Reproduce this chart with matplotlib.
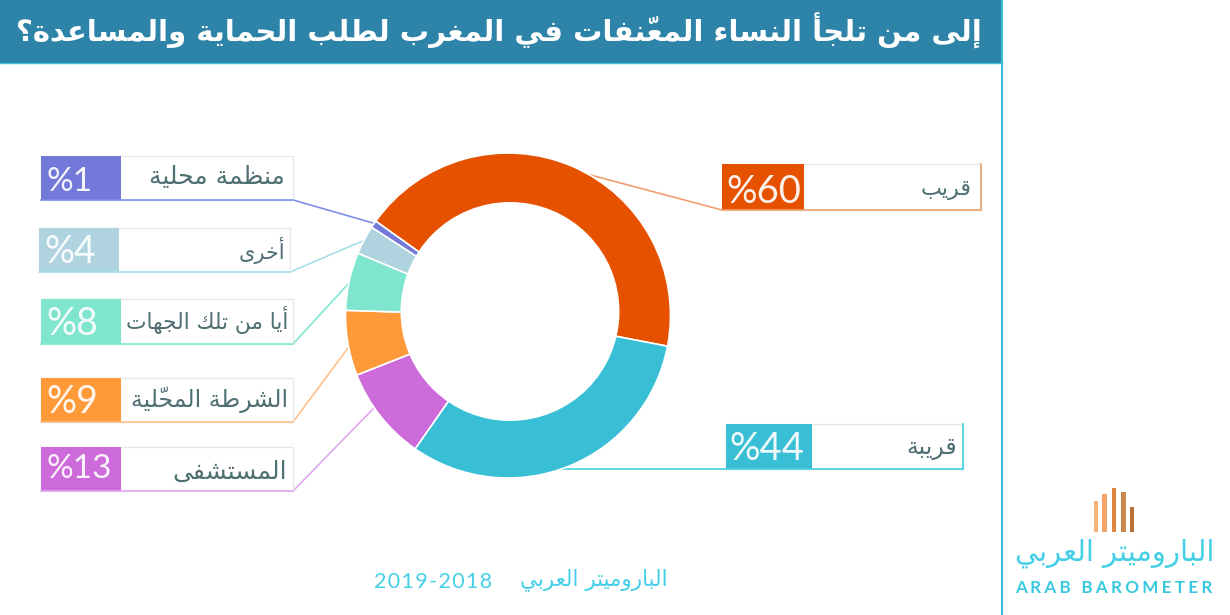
import matplotlib
matplotlib.use("Agg")
import matplotlib.pyplot as plt
from matplotlib.patches import Circle, Rectangle

# data
title = "إلى من تلجأ النساء المعنّفات في المغرب لطلب الحماية والمساعدة؟"
labels = ["قريب", "قريبة", "المستشفى", "الشرطة المحلّية", "أيا من تلك الجهات", "أخرى", "منظمة محلية"]
values = [60, 44, 13, 9, 8, 4, 1]
source = "الباروميتر العربي"
years = "2019-2018"
brand_ar = "الباروميتر العربي"
brand_en = "ARAB BAROMETER"
logo_heights = [31, 38, 44, 40, 25]

# colours
colors = ["#E65100", "#38BFD6", "#CC6BD9", "#FF9A3A", "#7FE5CF", "#AFD3DF", "#7379D8"]
line_colors = ["#F0A070", "#45CFE0", "#E0A8EE", "#FFC08A", "#7FE8D4", "#A8E0EA", "#7C90E8"]
logo_colors = ["#F5B27A", "#F4A468", "#DE8640", "#C98A50", "#B87035"]
band = "#2E84A8"
edge = "#3DBDD9"
text_col = "#4F6F73"

# layout in image pixels: left, right, top, bottom, end of colour block, label right edge, percent left edge
boxes = [
    (722, 981, 164, 210, 804, 972, 726),
    (726, 963, 424, 469, 812, 957, 729),
    (41, 293, 447, 491, 121, 287, 46),
    (41, 293, 378, 422, 121, 288, 46),
    (41, 293, 299, 344, 121, 288, 46),
    (39, 290, 228, 272, 119, 285, 44),
    (41, 293, 156, 200, 121, 285, 46),
]
# leader: from the box corner to the ring
leaders = [
    ((722, 210), (583, 173)),
    ((963, 469), (563, 469)),
    ((293, 491), (373, 409)),
    ((293, 422), (348, 348)),
    ((293, 344), (350, 282)),
    ((290, 272), (365, 240)),
    ((293, 200), (373, 223)),
]
label_sizes = [16, 17, 18, 17, 15.7, 15, 18]
label_y = [190, 448, 472, 400, 320, 250, 177]
pct_sizes = [27.5, 27.5, 24, 27, 27, 27, 24]
pct_y = [190, 447, 467, 400, 322, 250, 180]

# matplotlib has no arabic shaping: pick the presentation forms by hand
# letter: isolated form, then how many forms it has (2 = right-joining, 4 = dual)
forms = {
    "ء": (0xFE80, 1), "أ": (0xFE83, 2), "إ": (0xFE87, 2), "ا": (0xFE8D, 2), "ب": (0xFE8F, 4),
    "ة": (0xFE93, 2), "ت": (0xFE95, 4), "ج": (0xFE9D, 4), "ح": (0xFEA1, 4), "خ": (0xFEA5, 4),
    "د": (0xFEA9, 2), "ر": (0xFEAD, 2), "س": (0xFEB1, 4), "ش": (0xFEB5, 4), "ط": (0xFEC1, 4),
    "ظ": (0xFEC5, 4), "ع": (0xFEC9, 4), "غ": (0xFECD, 4), "ف": (0xFED1, 4), "ق": (0xFED5, 4),
    "ك": (0xFED9, 4), "ل": (0xFEDD, 4), "م": (0xFEE1, 4), "ن": (0xFEE5, 4), "ه": (0xFEE9, 4),
    "و": (0xFEED, 2), "ى": (0xFEEF, 2), "ي": (0xFEF1, 4),
}


def shape(s):
    letters = [c for c in s if c != "\u0651"]
    out = []
    for i, c in enumerate(letters):
        if c not in forms:
            out.append(c)
            continue
        base, n = forms[c]
        prev = letters[i - 1] if i > 0 else None
        nxt = letters[i + 1] if i < len(letters) - 1 else None
        join_prev = prev in forms and forms[prev][1] == 4 and n > 1
        join_next = nxt in forms and n == 4 and forms[nxt][1] > 1
        if join_prev and join_next:
            k = 3
        elif join_next:
            k = 2
        elif join_prev:
            k = 1
        else:
            k = 0
        out.append(chr(base + k))
    # put the shadda back on its letter, then go to visual order
    j = 0
    for i, c in enumerate(s):
        if c == "\u0651":
            out[j - 1] = out[j - 1] + c
        else:
            j += 1
    return "".join(reversed(out))


def py(y):
    return 615 - y


fig = plt.figure(figsize=(12.3, 6.15), dpi=100, facecolor="white")
ax = fig.add_axes([0, 0, 1, 1])

ax.pie(values, colors=colors, center=(508, py(315.5)), radius=162.5, startangle=144.5,
       counterclock=False, frame=True, wedgeprops={"edgecolor": "white", "linewidth": 1.2})
ax.add_patch(Circle((510, py(311.5)), 109.5, facecolor="white", edgecolor="none", zorder=3))

ax.set_xlim(0, 1230)
ax.set_ylim(0, 615)
ax.set_aspect("auto")
ax.axis("off")

# title band and right rule
ax.add_patch(Rectangle((0, py(63)), 1002, 63, facecolor=band, edgecolor="none", zorder=4))
ax.plot([0, 1002], [py(63), py(63)], color=edge, lw=1, zorder=5)
ax.plot([1002, 1002], [0, 615], color=edge, lw=1.5, zorder=5)
ax.text(982, py(31), shape(title), color="white", fontsize=21, fontweight="bold",
        family="DejaVu Sans", ha="right", va="center", zorder=6)

# label boxes
for i in range(len(values)):
    left, right, top, bottom, block, lab_x, pct_x = boxes[i]
    ax.add_patch(Rectangle((left, py(bottom)), right - left, bottom - top, facecolor="white",
                           edgecolor="#E8E8E8", lw=1, zorder=2))
    ax.add_patch(Rectangle((left, py(bottom)), block - left, bottom - top, facecolor=colors[i],
                           edgecolor="none", zorder=3))
    ax.plot([leaders[i][1][0], leaders[i][0][0], right], [py(leaders[i][1][1]), py(leaders[i][0][1]), py(bottom)],
            color=line_colors[i], lw=1.2, zorder=0.5)
    ax.plot([left, right], [py(bottom), py(bottom)], color=line_colors[i], lw=1.2, zorder=3)
    if i < 2:
        ax.plot([right, right], [py(top), py(bottom)], color=line_colors[i], lw=1.2, zorder=3)
    ax.text(pct_x, py(pct_y[i] + 2), "%" + str(values[i]), color="white", alpha=0.92, fontsize=pct_sizes[i],
            family="Lato", ha="left", va="center", zorder=4)
    ax.text(lab_x, py(label_y[i]), shape(labels[i]), color=text_col, fontsize=label_sizes[i],
            family="DejaVu Sans", ha="right", va="center", zorder=4)

# footer
ax.text(668, py(580), shape(source), color="#45CFE6", fontsize=15.5, family="DejaVu Sans",
        ha="right", va="center")
ax.text(374, py(582), "\u200a".join(years), color="#45CFE6", fontsize=15.5, family="Lato",
        ha="left", va="center")

# logo
logo_x = [1096, 1104.7, 1114, 1123.3, 1132]
ax.bar(logo_x, logo_heights, width=4.5, bottom=py(532), color=logo_colors, zorder=2)
ax.text(1214, py(553), shape(brand_ar), color="#45CFE6", fontsize=20.8, family="DejaVu Sans",
        ha="right", va="center")
ax.text(1015, py(588), "\u2009\u200a".join(brand_en), color="#38C8E0", fontsize=12.3, fontweight="bold",
        family="Lato", ha="left", va="center")

fig.savefig("out.png", dpi=100, facecolor="white")
